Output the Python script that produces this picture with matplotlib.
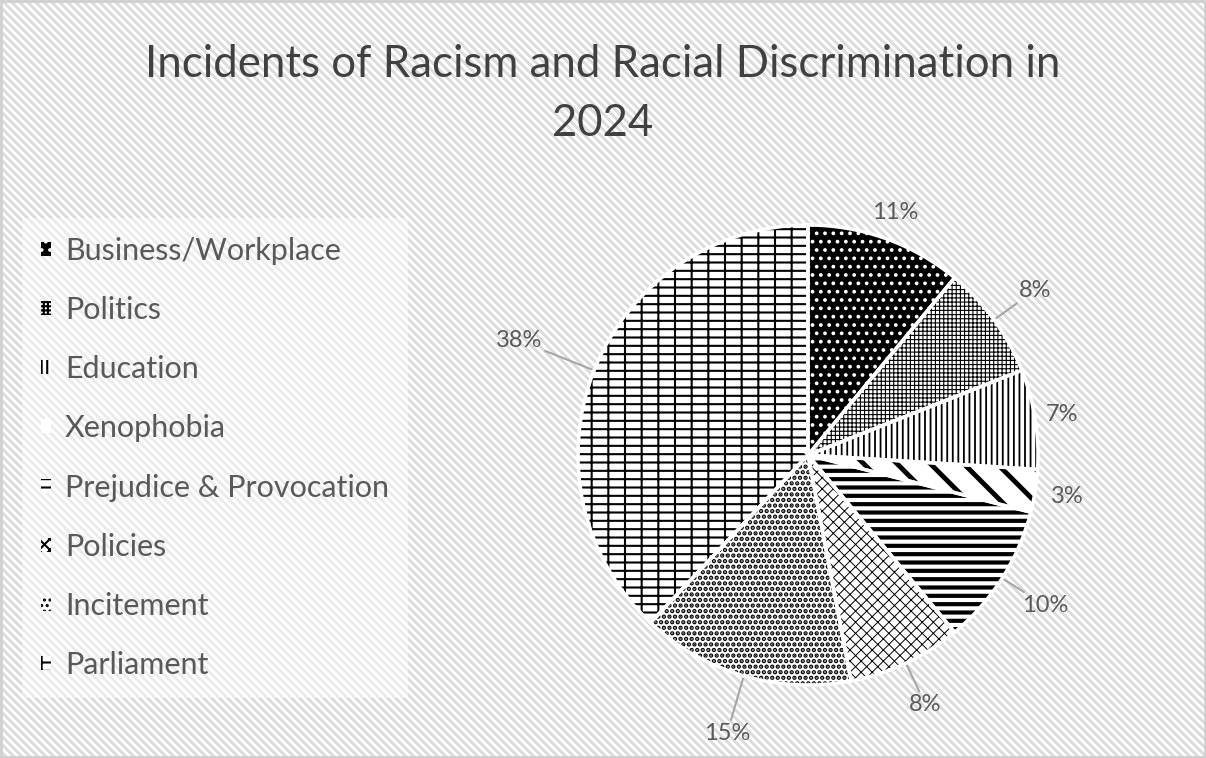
import numpy as np
import matplotlib
matplotlib.use("Agg")
import matplotlib.pyplot as plt
from matplotlib.patches import Wedge

plt.rcParams['font.family'] = ['Lato', 'DejaVu Sans']
plt.rcParams['hatch.linewidth'] = 1.5

# data
categories = ["Business/Workplace", "Politics", "Education", "Xenophobia",
              "Prejudice & Provocation", "Policies", "Incitement", "Parliament"]
shares = [11, 8, 7, 3, 10, 8, 15, 38]
pct_labels = ["11%", "8%", "7%", "3%", "10%", "8%", "15%", "38%"]

# styles (black & white patterns like the excel chart)
faces = ["black", "white", "white", "white", "white", "white", "white", "white"]
hatch_cols = ["white", "black", "black", "black", "black", "black", "black", "black"]
hatches = ["..", "++++", "|||", "\\", "--", "xxx", "...", "--|"]
hatch_lw = [1.5, 0.8, 1.3, 3.5, 3.0, 0.7, 2.2, 1.5]
lab_r = [1.12, 1.22, 1.12, 1.14, 1.22, 1.20, 1.26, 1.35]
has_leader = [False, True, False, False, True, True, True, True]

W, H = 1206, 758
fig = plt.figure(figsize=(W / 100, H / 100), dpi=100)

# striped background
bg = fig.add_axes([0, 0, 1, 1])
yy, xx = np.mgrid[0:H, 0:W]
stripes = np.where(((xx - yy) % 8) < 4, 0.86, 1.0)
bg.imshow(stripes, cmap="gray", vmin=0, vmax=1, extent=(0, W, H, 0),
          interpolation="nearest", aspect="auto")
bg.set_xlim(0, W)
bg.set_ylim(H, 0)
bg.axis("off")
bg.add_patch(plt.Rectangle((1, 1), W - 2, H - 2, fill=False, ec="#d0d0d0", lw=2))

# pie axes: centre (808, 455) px, radius 230 px
half = 330
ax = fig.add_axes([(808 - half) / W, (H - 455 - half) / H, 2 * half / W, 2 * half / H])
wedges, _ = ax.pie(shares, startangle=90, counterclock=False, radius=1,
                   colors=faces, wedgeprops=dict(linewidth=0))
for w, hc, h, lw in zip(wedges, hatch_cols, hatches, hatch_lw):
    w.set_edgecolor(hc)
    w.set_hatch(h)
    try:
        w.set_hatch_linewidth(lw)
    except AttributeError:
        pass
# white separators
for w in wedges:
    ax.add_patch(Wedge(w.center, w.r, w.theta1, w.theta2, fill=False,
                       ec="white", lw=2.5))
lim = half / 230
ax.set_xlim(-lim, lim)
ax.set_ylim(-lim, lim)
ax.axis("off")

for w, txt, r, lead in zip(wedges, pct_labels, lab_r, has_leader):
    ang = np.deg2rad((w.theta1 + w.theta2) / 2)
    x, y = np.cos(ang), np.sin(ang)
    if lead:
        ax.annotate(txt, xy=(x, y), xytext=(r * x, r * y), ha="center", va="center",
                    fontsize=17, color="#595959",
                    arrowprops=dict(arrowstyle="-", color="#a6a6a6", lw=1.5,
                                    shrinkA=0, shrinkB=2))
    else:
        ax.text(r * x, r * y, txt, ha="center", va="center", fontsize=17, color="#595959")

fig.text(0.5, 1 - 94 / H, "Incidents of Racism and Racial Discrimination in\n2024",
         ha="center", va="center", fontsize=31.5, color="#404040", linespacing=1.56)

leg = fig.legend(wedges, categories, loc="upper left",
                 bbox_to_anchor=(22 / W, 1 - 218 / H), fontsize=22,
                 handlelength=0.33, handleheight=0.33, handletextpad=0.45,
                 labelspacing=1.02, borderpad=0.62, borderaxespad=0,
                 frameon=True, fancybox=False)
for t in leg.get_texts():
    t.set_color("#595959")
frame = leg.get_frame()
frame.set_facecolor("white")
frame.set_alpha(0.45)
frame.set_edgecolor("none")

fig.savefig("out.png", dpi=100)
